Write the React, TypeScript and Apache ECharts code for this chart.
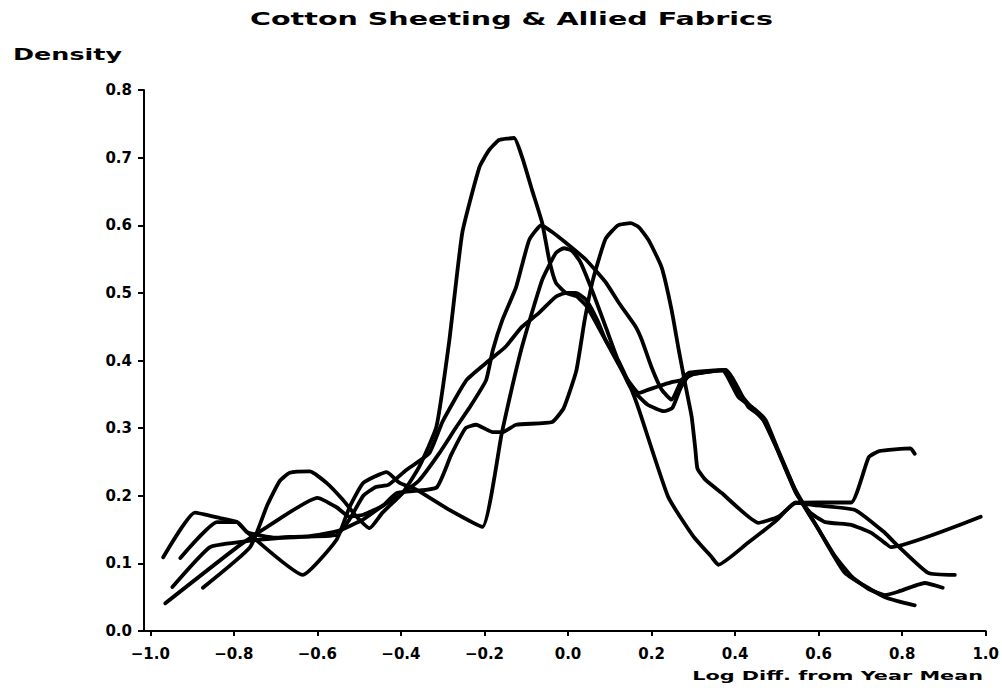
import React, { useEffect, useRef } from "react";
import * as echarts from "echarts";

const chartTitle = "Cotton Sheeting & Allied Fabrics";
const yAxisTitle = "Density";
const xAxisTitle = "Log Diff. from Year Mean";

const xTicks = [-1.0, -0.8, -0.6, -0.4, -0.2, 0.0, 0.2, 0.4, 0.6, 0.8, 1.0];
const yTicks = [0.0, 0.1, 0.2, 0.3, 0.4, 0.5, 0.6, 0.7, 0.8];

// Curve with the tall peak (~0.73 near -0.14)
const curveTall: number[][] = [
  [-0.874, 0.064], [-0.761, 0.124], [-0.72, 0.186], [-0.69, 0.222], [-0.666, 0.234],
  [-0.618, 0.236], [-0.578, 0.219], [-0.539, 0.194], [-0.506, 0.169], [-0.475, 0.152],
  [-0.444, 0.175], [-0.396, 0.204], [-0.356, 0.243], [-0.315, 0.302], [-0.284, 0.43],
  [-0.253, 0.589], [-0.212, 0.686], [-0.189, 0.711], [-0.165, 0.726], [-0.129, 0.729],
  [-0.11, 0.701], [-0.086, 0.652], [-0.062, 0.604], [-0.045, 0.549], [-0.029, 0.515],
  [-0.005, 0.5], [0.02, 0.495], [0.045, 0.48], [0.09, 0.43], [0.12, 0.4],
  [0.15, 0.36], [0.17, 0.327], [0.24, 0.198], [0.3, 0.14], [0.343, 0.11],
  [0.36, 0.098], [0.43, 0.13], [0.5, 0.164], [0.545, 0.19], [0.59, 0.186],
  [0.687, 0.179], [0.759, 0.145], [0.783, 0.13], [0.862, 0.086], [0.926, 0.083],
];

// Curve peaking ~0.60 near -0.06
const curveLeftPeak: number[][] = [
  [-0.928, 0.108], [-0.84, 0.161], [-0.792, 0.161], [-0.768, 0.146], [-0.7, 0.138],
  [-0.62, 0.14], [-0.55, 0.148], [-0.49, 0.165], [-0.444, 0.185], [-0.396, 0.204],
  [-0.356, 0.223], [-0.308, 0.263], [-0.267, 0.302], [-0.236, 0.33], [-0.196, 0.371],
  [-0.18, 0.415], [-0.157, 0.46], [-0.124, 0.509], [-0.093, 0.578], [-0.064, 0.6],
  [-0.038, 0.59], [-0.005, 0.574], [0.043, 0.549], [0.091, 0.515], [0.122, 0.485],
  [0.162, 0.45], [0.177, 0.43], [0.2, 0.39], [0.224, 0.357], [0.248, 0.342],
  [0.272, 0.371], [0.29, 0.382], [0.377, 0.386], [0.4, 0.36], [0.44, 0.33],
  [0.47, 0.31], [0.5, 0.27], [0.545, 0.205], [0.58, 0.175], [0.616, 0.161],
  [0.678, 0.157], [0.726, 0.145], [0.759, 0.13], [0.773, 0.124], [0.988, 0.169],
];

// Curve with flat ~0.30 shoulder and peak ~0.60 near 0.15
const curveRightPeak: number[][] = [
  [-0.964, 0.041], [-0.792, 0.124], [-0.72, 0.154], [-0.6, 0.197], [-0.554, 0.183],
  [-0.523, 0.169], [-0.49, 0.172], [-0.444, 0.185], [-0.41, 0.204], [-0.315, 0.212],
  [-0.28, 0.26], [-0.245, 0.3], [-0.22, 0.305], [-0.18, 0.294], [-0.157, 0.294],
  [-0.124, 0.305], [-0.038, 0.309], [-0.01, 0.33], [0.02, 0.385], [0.04, 0.46],
  [0.06, 0.52], [0.09, 0.58], [0.12, 0.6], [0.15, 0.603], [0.17, 0.597],
  [0.193, 0.578], [0.224, 0.538], [0.248, 0.475], [0.265, 0.416], [0.282, 0.361],
  [0.296, 0.317], [0.305, 0.268], [0.31, 0.24], [0.33, 0.223], [0.368, 0.204],
  [0.456, 0.16], [0.504, 0.169], [0.544, 0.189], [0.6, 0.19], [0.678, 0.19],
  [0.72, 0.257], [0.745, 0.266], [0.82, 0.27], [0.83, 0.262],
];

// Curve with dips at -0.63 and -0.20, peak ~0.57 near 0.0
const curveCenterPeak: number[][] = [
  [-0.969, 0.109], [-0.893, 0.175], [-0.833, 0.167], [-0.792, 0.161], [-0.768, 0.146],
  [-0.635, 0.083], [-0.554, 0.135], [-0.523, 0.183], [-0.49, 0.219], [-0.434, 0.235],
  [-0.403, 0.219], [-0.363, 0.209], [-0.284, 0.179], [-0.205, 0.154], [-0.158, 0.294],
  [-0.112, 0.416], [-0.062, 0.519], [-0.029, 0.559], [-0.01, 0.566], [0.01, 0.562],
  [0.03, 0.545], [0.06, 0.5], [0.09, 0.45], [0.12, 0.4], [0.15, 0.36],
  [0.19, 0.335], [0.23, 0.325], [0.25, 0.33], [0.27, 0.36], [0.29, 0.378],
  [0.33, 0.383], [0.37, 0.385], [0.408, 0.346], [0.449, 0.327], [0.473, 0.312],
  [0.496, 0.278], [0.544, 0.209], [0.568, 0.183], [0.6, 0.15], [0.64, 0.11],
  [0.68, 0.08], [0.72, 0.062], [0.759, 0.053], [0.79, 0.058], [0.854, 0.071],
  [0.897, 0.064],
];

// Gradual curve with plateau ~0.50 near 0.0
const curveGradual: number[][] = [
  [-0.947, 0.065], [-0.857, 0.124], [-0.778, 0.132], [-0.737, 0.135], [-0.666, 0.139],
  [-0.554, 0.142], [-0.523, 0.165], [-0.49, 0.2], [-0.46, 0.213], [-0.43, 0.216],
  [-0.387, 0.238], [-0.332, 0.263], [-0.3, 0.31], [-0.243, 0.371], [-0.189, 0.4],
  [-0.15, 0.42], [-0.11, 0.45], [-0.07, 0.47], [-0.03, 0.494], [-0.005, 0.5],
  [0.019, 0.5], [0.043, 0.49], [0.07, 0.46], [0.09, 0.43], [0.138, 0.376],
  [0.17, 0.352], [0.193, 0.357], [0.248, 0.368], [0.272, 0.371], [0.3, 0.38],
  [0.377, 0.386], [0.432, 0.331], [0.463, 0.317], [0.5, 0.27], [0.55, 0.2],
  [0.6, 0.15], [0.663, 0.086], [0.759, 0.05], [0.83, 0.038],
];

const curves = [curveTall, curveLeftPeak, curveRightPeak, curveCenterPeak, curveGradual];

const FONT = "'DejaVu Sans', 'Liberation Sans', sans-serif";

export default function App() {
  const ref = useRef<HTMLDivElement>(null);

  useEffect(() => {
    if (!ref.current) return;
    const chart = echarts.init(ref.current, null, { renderer: "svg" });
    const fmt = (v: number) => v.toFixed(1).replace("-", "\u2212");
    chart.setOption({
      animation: false,
      backgroundColor: "#ffffff",
      grid: { left: 144, right: 14, top: 90, bottom: 59, containLabel: false },
      xAxis: {
        type: "value",
        min: -1.015,
        max: 1.0,
        axisLine: { show: true, onZero: false, lineStyle: { color: "#000", width: 2 } },
        axisTick: {
          show: true,
          customValues: xTicks,
          length: 5,
          inside: false,
          lineStyle: { color: "#000", width: 2 },
        },
        axisLabel: {
          customValues: xTicks,
          formatter: fmt,
          color: "#000",
          fontFamily: FONT,
          fontWeight: "bold",
          fontSize: 15,
          margin: 15,
        },
        splitLine: { show: false },
      },
      yAxis: {
        type: "value",
        min: 0,
        max: 0.8,
        interval: 0.1,
        axisLine: { show: true, onZero: false, lineStyle: { color: "#000", width: 2 } },
        axisTick: { show: true, length: 6, lineStyle: { color: "#000", width: 2 } },
        axisLabel: {
          formatter: (v: number) => (yTicks.some((t) => Math.abs(t - v) < 1e-9) ? fmt(v) : ""),
          color: "#000",
          fontFamily: FONT,
          fontWeight: "bold",
          fontSize: 15,
          margin: 12,
        },
        splitLine: { show: false },
      },
      series: curves.map((c, i) => ({
        type: "line",
        name: "curve" + (i + 1),
        data: c,
        showSymbol: false,
        smooth: 0.15,
        lineStyle: { color: "#000", width: 3.8, cap: "round", join: "round" },
        z: 2,
      })),
      graphic: [
        {
          type: "text",
          x: 250,
          y: 19,
          scaleX: 1.68,
          style: {
            text: chartTitle,
            font: `bold 17px ${FONT}`,
            fill: "#000",
            textAlign: "left",
            textVerticalAlign: "middle",
          },
        },
        {
          type: "text",
          x: 13,
          y: 54,
          scaleX: 1.59,
          style: {
            text: yAxisTitle,
            font: `bold 16px ${FONT}`,
            fill: "#000",
            textAlign: "left",
            textVerticalAlign: "middle",
          },
        },
        {
          type: "text",
          x: 983,
          y: 676,
          scaleX: 1.6,
          style: {
            text: xAxisTitle,
            font: `bold 13px ${FONT}`,
            fill: "#000",
            textAlign: "right",
            textVerticalAlign: "middle",
          },
        },
      ],
    });
    return () => chart.dispose();
  }, []);

  return (
    <div
      ref={ref}
      style={{ position: "fixed", left: 0, top: 0, width: 1002, height: 690, background: "#fff" }}
    />
  );
}
